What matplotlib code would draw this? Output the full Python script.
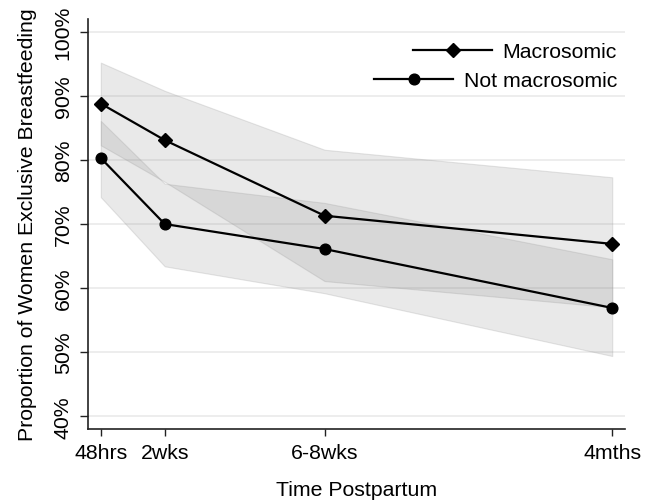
import numpy as np
import matplotlib.pyplot as plt
from matplotlib.ticker import FuncFormatter

plt.rcParams['font.family'] = ['Liberation Sans', 'DejaVu Sans']

# time points (weeks postpartum) and labels
weeks = [0, 2, 7, 16]
time_labels = ['48hrs', '2wks', '6-8wks', '4mths']

# proportion exclusively breastfeeding (%)
macro = [88.8, 83.1, 71.3, 66.9]
macro_lo = [82.3, 76.6, 61.1, 57.0]
macro_hi = [95.2, 90.8, 81.6, 77.3]

not_macro = [80.3, 70.0, 66.1, 56.9]
not_macro_lo = [74.2, 63.4, 59.2, 49.4]
not_macro_hi = [86.1, 76.3, 73.3, 64.5]

yticks = [40, 50, 60, 70, 80, 90, 100]
fs = 15.3

fig = plt.figure(figsize=(6.54, 5.02), dpi=100)
ax = fig.add_axes([0.1346, 0.1434, 0.8211, 0.8166])

band_face = (0.5, 0.5, 0.5, 0.17)
band_edge = (0.6, 0.6, 0.6, 0.25)
ax.fill_between(weeks, macro_lo, macro_hi, facecolor=band_face, edgecolor=band_edge, lw=0.8, zorder=2)
ax.fill_between(weeks, not_macro_lo, not_macro_hi, facecolor=band_face, edgecolor=band_edge, lw=0.8, zorder=2)

ax.plot(weeks, macro, color='black', lw=1.6, marker='D', ms=7, label='Macrosomic', zorder=3)
ax.plot(weeks, not_macro, color='black', lw=1.6, marker='o', ms=7.7, label='Not macrosomic', zorder=3)

ax.set_xlim(-0.4, 16.4)
ax.set_ylim(38, 102)
ax.set_xticks(weeks)
ax.set_xticklabels(time_labels)
ax.set_yticks(yticks)
ax.yaxis.set_major_formatter(FuncFormatter(lambda v, p: '%d%%' % v))

ax.grid(axis='y', color='#eaeaea', lw=1.2, zorder=0)
ax.set_axisbelow(True)
for s in ['top', 'right']:
    ax.spines[s].set_visible(False)
for s in ['left', 'bottom']:
    ax.spines[s].set_linewidth(1.2)
    ax.spines[s].set_color('#222222')

ax.tick_params(axis='both', labelsize=fs, direction='out', width=1.0, color='#222222')
ax.tick_params(axis='x', length=5, pad=5)
ax.tick_params(axis='y', length=6, pad=5, labelrotation=90)
for lbl in ax.get_yticklabels():
    lbl.set_va('center')

ax.set_xlabel('Time Postpartum', fontsize=fs, labelpad=13)
ax.set_ylabel('Proportion of Women Exclusive Breastfeeding', fontsize=fs, labelpad=12)

leg = ax.legend(loc='upper right', bbox_to_anchor=(0.985, 0.943), frameon=False,
                fontsize=fs, handlelength=3.7, handletextpad=0.5,
                labelspacing=0.45, borderpad=0, borderaxespad=0)
for col in leg._legend_handle_box.get_children():
    col.align = 'right'

fig.savefig('out.png', dpi=100)
